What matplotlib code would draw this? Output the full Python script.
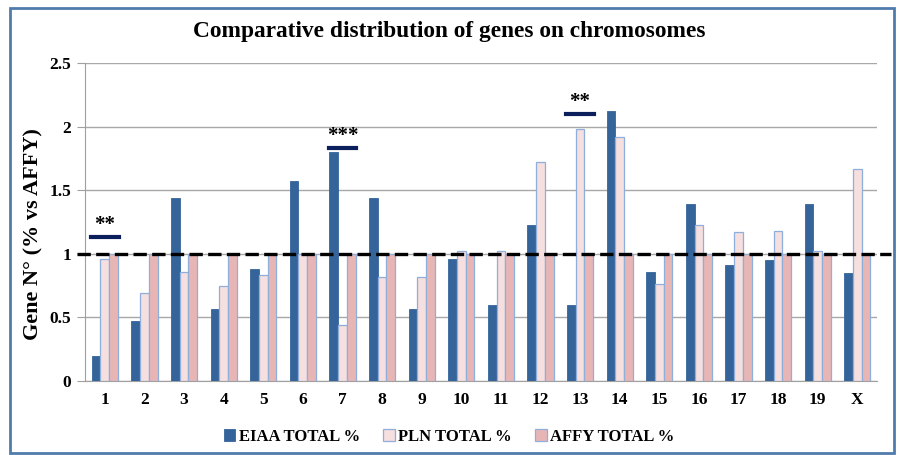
import matplotlib
matplotlib.use("Agg")
import matplotlib.pyplot as plt
import numpy as np
from matplotlib.patches import Rectangle

chromosomes = ["1", "2", "3", "4", "5", "6", "7", "8", "9", "10",
               "11", "12", "13", "14", "15", "16", "17", "18", "19", "X"]
eiaa = [0.20, 0.47, 1.44, 0.57, 0.88, 1.57, 1.80, 1.44, 0.57, 0.96,
        0.60, 1.23, 0.60, 2.12, 0.86, 1.39, 0.91, 0.95, 1.39, 0.85]
pln = [0.96, 0.69, 0.86, 0.75, 0.83, 1.00, 0.44, 0.82, 0.82, 1.02,
       1.02, 1.72, 1.98, 1.92, 0.76, 1.23, 1.17, 1.18, 1.02, 1.67]
affy = [1.0] * 20
series_names = ["EIAA TOTAL %", "PLN TOTAL %", "AFFY TOTAL %"]

# significance marks: (chromosome index, height, label)
sig_marks = [(0, 1.13, "**"), (6, 1.83, "***"), (12, 2.10, "**")]

plt.rcParams["font.family"] = ["Liberation Serif", "DejaVu Serif"]
plt.rcParams["font.weight"] = "bold"

fig = plt.figure(figsize=(8.98, 4.55), dpi=100)
ax = fig.add_axes([0.0947, 0.1626, 0.882, 0.699])

x = np.arange(len(chromosomes))
w = 0.22
ax.bar(x - w, eiaa, w, color="#35649a", edgecolor="#35649a", linewidth=0.6,
       label=series_names[0], zorder=3)
ax.bar(x, pln, w, color="#f6dfdf", edgecolor="#8eaedb", linewidth=0.9,
       label=series_names[1], zorder=3)
ax.bar(x + w, affy, w, color="#e8b5b5", edgecolor="#8eaedb", linewidth=0.9,
       label=series_names[2], zorder=3)

ax.set_xlim(-0.5, len(chromosomes) - 0.5)
ax.set_ylim(0, 2.5)
ax.set_yticks([0, 0.5, 1, 1.5, 2, 2.5])
ax.set_yticklabels(["0", "0.5", "1", "1.5", "2", "2.5"], fontweight="bold")
ax.set_xticks(x)
ax.set_xticklabels(chromosomes, fontweight="bold")
ax.tick_params(axis="both", labelsize=12.5, length=0, pad=8)
ax.tick_params(axis="y", length=6, color="#a0a0a0", direction="out", pad=4)
ax.grid(axis="y", color="#a8a8a8", linewidth=1.0, zorder=0)
for s in ["top", "right"]:
    ax.spines[s].set_visible(False)
ax.spines["left"].set_color("#a0a0a0")
ax.spines["bottom"].set_color("#a0a0a0")

ax.axhline(1.0, xmin=-0.01, xmax=1.018, color="black", linestyle=(0, (4, 1.6)),
           linewidth=2.4, zorder=4, clip_on=False)

for i, h, lab in sig_marks:
    ax.plot([i - 0.35, i + 0.35], [h, h], color="#0a1f5c", linewidth=3, zorder=5)
    ax.text(i, h + 0.015, lab, ha="center", va="bottom", fontsize=15,
            fontweight="bold", zorder=5)

# y label placed by hand (it sits lower than the axes centre in the original)
fig.text(0.037, 0.486, "Gene N° (% vs AFFY)", rotation=90, ha="center", va="center",
         fontsize=16, fontweight="bold")
fig.text(0.5, 0.93, "Comparative distribution of genes on chromosomes",
         ha="center", va="center", fontsize=16.8, fontweight="bold")

fig.legend(loc="center", bbox_to_anchor=(0.5, 0.04), ncol=3, frameon=False,
           prop={"size": 12, "weight": "bold"}, handlelength=0.7, handleheight=0.7,
           handletextpad=0.2, columnspacing=1.4)

fig.patches.append(Rectangle((0.011, 0.005), 0.984, 0.978, transform=fig.transFigure,
                             fill=False, edgecolor="#4f7cac", linewidth=2))

fig.savefig("out.png", dpi=100)
